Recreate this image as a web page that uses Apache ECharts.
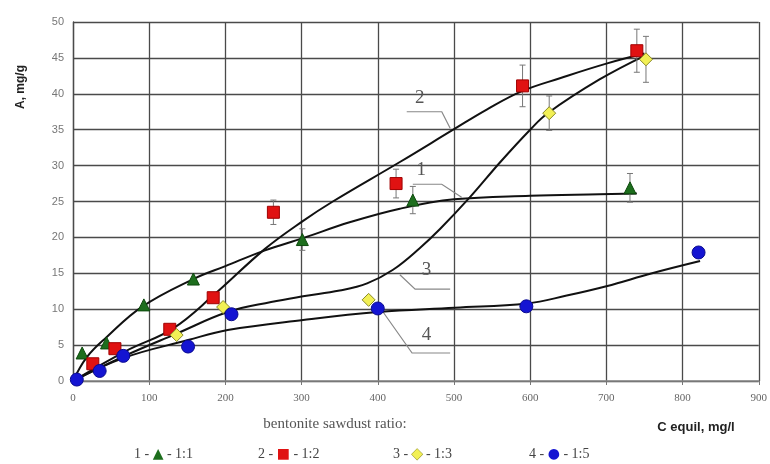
<!DOCTYPE html>
<html><head><meta charset="utf-8">
<script src="https://cdn.jsdelivr.net/npm/echarts@6/dist/echarts.min.js"></script>
<style>html,body{margin:0;padding:0;background:#fff}#c{width:770px;height:464px}</style>
</head><body><div id="c"></div>
<script>
// ---- measured points (C equil, mg/l ; A, mg/g) ----
const s1X = [12, 44, 93, 158, 301, 446, 731];
const s1Y = [3.9, 5.3, 10.6, 14.2, 19.7, 25.2, 26.9];
const s1Err = [0, 0, 0, 0, 1.5, 1.9, 2.0];

const s2X = [26, 55, 127, 184, 263, 424, 590, 740];
const s2Y = [2.4, 4.5, 7.2, 11.6, 23.5, 27.5, 41.1, 46.0];
const s2Err = [0, 0, 0, 0, 1.7, 2.0, 2.9, 3.0];

const s3X = [136, 197, 388, 625, 752];
const s3Y = [6.4, 10.3, 11.3, 37.3, 44.8];
const s3Err = [0, 0, 0, 2.4, 3.2];

const s4X = [5, 35, 66, 151, 208, 400, 595, 821];
const s4Y = [0.2, 1.4, 3.5, 4.8, 9.3, 10.1, 10.4, 17.9];
const s4Err = [0, 0, 0, 0, 0, 0, 0, 0.7];

// ---- hand-drawn fitted curves ----
const c1X = [0, 18, 44, 90, 158, 200, 252, 302, 363, 429, 500, 600, 691, 740];
const c1Y = [0, 3.3, 6.1, 10.3, 14.2, 16.0, 18.2, 19.9, 22.1, 24.0, 25.3, 25.8, 26.0, 26.1];

const c2X = [0, 70, 131, 185, 252, 302, 341, 429, 499, 543, 590, 640, 700, 750];
const c2Y = [0, 4.2, 7.3, 12.0, 18.4, 22.3, 25.0, 30.5, 35.0, 37.8, 40.4, 42.2, 44.2, 45.6];

const c3X = [0, 70, 136, 203, 260, 302, 350, 386, 420, 455, 482, 521, 560, 600, 623, 691, 752];
const c3Y = [0, 3.6, 6.6, 9.6, 11.0, 11.8, 12.6, 13.6, 15.5, 18.5, 21.2, 25.6, 30.4, 35.0, 37.3, 42.0, 45.4];

const c4X = [0, 66, 151, 203, 302, 400, 501, 596, 648, 700, 760, 823];
const c4Y = [0, 3.2, 5.7, 7.1, 8.5, 9.6, 10.2, 10.8, 11.9, 13.2, 15.0, 16.7];

// ---- axes / text ----
const xMin = 0, xMax = 900, xStep = 100;
const yMin = 0, yMax = 50, yStep = 5;
const yTitle = 'A, mg/g';
const xTitle = 'C equil, mg/l';
const ratioCaption = 'bentonite sawdust ratio:';
const legendNums = ['1', '2', '3', '4'];
const legendRatios = ['1:1', '1:2', '1:3', '1:5'];
const curveLabels = ['1', '2', '3', '4'];
// label anchor and leader polylines in data units
const curveLabelPos = [[457, 29.4], [455, 39.4], [464, 15.5], [464, 6.4]];
const curveLeaders = [
  [[446, 27.4], [484, 27.4], [510, 25.6]],
  [[438, 37.5], [484, 37.5], [495, 35.2]],
  [[429, 14.8], [449, 12.8], [495, 12.8]],
  [[403, 10.2], [445, 3.9], [495, 3.9]]
];

const zip = (a, b) => a.map((v, i) => [v, b[i]]);
const zip3 = (a, b, c) => a.map((v, i) => [v, b[i], c[i]]);

const colors = {
  g: '#1d6e1d', r: '#e01212', y: '#f2f055', b: '#1414d2'
};

function curve(xs, ys) {
  return {
    type: 'line', data: zip(xs, ys), smooth: 0.4, showSymbol: false, symbol: 'none',
    lineStyle: { color: '#111', width: 2 }, z: 3, silent: true
  };
}
function errSeries(xs, ys, es) {
  return {
    type: 'custom', data: zip3(xs, ys, es), z: 4, silent: true,
    renderItem: function (params, api) {
      const x = api.value(0), y = api.value(1), e = api.value(2);
      if (!e) return null;
      const t = api.coord([x, y + e]), b = api.coord([x, y - e]);
      const st = { stroke: '#777', lineWidth: 1 };
      return {
        type: 'group', children: [
          { type: 'line', shape: { x1: t[0], y1: t[1], x2: b[0], y2: b[1] }, style: st },
          { type: 'line', shape: { x1: t[0] - 3, y1: t[1], x2: t[0] + 3, y2: t[1] }, style: st },
          { type: 'line', shape: { x1: b[0] - 3, y1: b[1], x2: b[0] + 3, y2: b[1] }, style: st }
        ]
      };
    }
  };
}
function pts(xs, ys, symbol, size, color, border) {
  return {
    type: 'scatter', data: zip(xs, ys), symbol: symbol, symbolSize: size, z: 5,
    itemStyle: { color: color, borderColor: border, borderWidth: 1, opacity: 1 }
  };
}

const chart = echarts.init(document.getElementById('c'));
chart.setOption({
  animation: false,
  backgroundColor: '#fff',
  grid: { left: 73, right: 11, top: 22, bottom: 83 },
  xAxis: {
    type: 'value', min: xMin, max: xMax, interval: xStep,
    axisLine: { show: true, onZero: false, lineStyle: { color: '#888', width: 1.5 } },
    axisTick: { show: true, length: 4, inside: false, lineStyle: { color: '#777' } },
    axisLabel: { color: '#666', fontFamily: 'Liberation Serif', fontSize: 11, margin: 12 },
    splitLine: { show: true, lineStyle: { color: '#4a4a4a', width: 1.3 } }
  },
  yAxis: {
    type: 'value', min: yMin, max: yMax, interval: yStep,
    axisLine: { show: true, lineStyle: { color: '#4a4a4a', width: 1.3 } },
    axisTick: { show: false },
    axisLabel: { color: '#777', fontFamily: 'Liberation Sans', fontSize: 11, margin: 9 },
    splitLine: { show: true, lineStyle: { color: '#4a4a4a', width: 1.3 } }
  },
  series: [
    curve(c1X, c1Y), curve(c2X, c2Y), curve(c3X, c3Y), curve(c4X, c4Y),
    errSeries(s1X, s1Y, s1Err), errSeries(s2X, s2Y, s2Err),
    errSeries(s3X, s3Y, s3Err), errSeries(s4X, s4Y, s4Err),
    pts(s1X, s1Y, 'triangle', 12, colors.g, '#0d4a0d'),
    pts(s2X, s2Y, 'rect', 12, colors.r, '#a00000'),
    pts(s3X, s3Y, 'diamond', 13, colors.y, '#8a8a2a'),
    pts(s4X, s4Y, 'circle', 13, colors.b, '#0a0a90')
  ]
});

// annotations (labels and leader lines) placed through the chart's scales
const g = [];
curveLeaders.forEach(function (line) {
  g.push({
    type: 'polyline', z: 2, silent: true,
    shape: { points: line.map(p => chart.convertToPixel({ gridIndex: 0 }, p)) },
    style: { stroke: '#888', lineWidth: 1.2, fill: null }
  });
});
curveLabels.forEach(function (t, i) {
  const p = chart.convertToPixel({ gridIndex: 0 }, curveLabelPos[i]);
  g.push({
    type: 'text', x: p[0], y: p[1], z: 6, silent: true,
    style: { text: t, fill: '#555', font: '19px "Liberation Serif"', align: 'center', verticalAlign: 'middle' }
  });
});
g.push({
  type: 'text', x: 21, y: 87, rotation: Math.PI / 2,
  style: { text: yTitle, fill: '#222', font: 'bold 12px "Liberation Sans"', align: 'center', verticalAlign: 'middle' }
});
g.push({
  type: 'text', x: 696, y: 427,
  style: { text: xTitle, fill: '#222', font: 'bold 13px "Liberation Sans"', align: 'center', verticalAlign: 'middle' }
});
g.push({
  type: 'text', x: 335, y: 424,
  style: { text: ratioCaption, fill: '#555', font: '15px "Liberation Serif"', align: 'center', verticalAlign: 'middle' }
});
const legX = [134, 258, 393, 529];
const legSym = ['▲', '■', '◆', '●'];
const legCol = [colors.g, colors.r, colors.y, colors.b];
legendNums.forEach(function (n, i) {
  g.push({
    type: 'text', x: legX[i], y: 454,
    style: {
      text: '{n|' + n + ' - }{s|' + legSym[i] + '}{n| - ' + legendRatios[i] + '}',
      verticalAlign: 'middle', align: 'left',
      rich: {
        n: { fill: '#444', font: '14px "Liberation Serif"' },
        s: { fill: legCol[i], font: '14px "DejaVu Sans"', stroke: i === 2 ? '#9a9a30' : null, lineWidth: 1 }
      }
    }
  });
});
chart.setOption({ graphic: g });
</script>
</body></html>
